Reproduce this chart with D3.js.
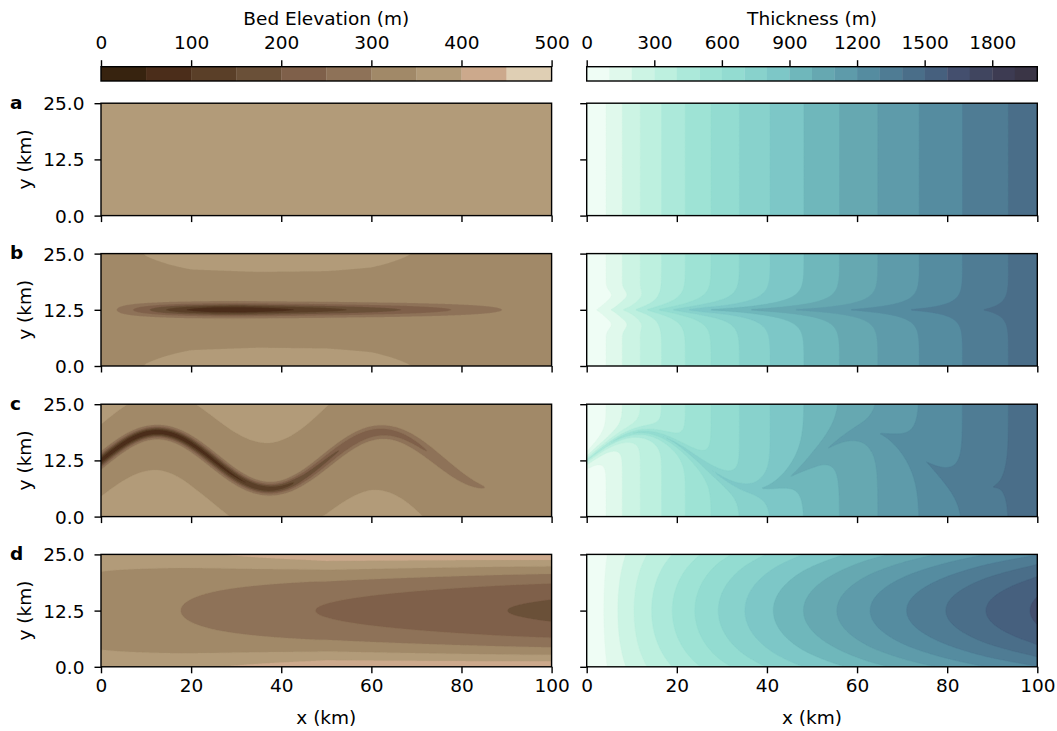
<!DOCTYPE html>
<html>
<head>
<meta charset="utf-8">
<script src="https://cdn.jsdelivr.net/npm/d3@7"></script>
<style>
  body { margin: 0; background: #fff; }
  svg { display: block; }
  text { font-family: "DejaVu Sans", sans-serif; fill: #000; }
</style>
</head>
<body>
<svg id="fig" width="1057" height="731"></svg>
<script>
// ---------- colour classes ----------
const bedLevels = [0, 50, 100, 150, 200, 250, 300, 350, 400, 450, 500];
const bedColors = ["#37230f", "#4b2d1a", "#5a3f28", "#6a5038", "#7f604a",
                   "#8e7258", "#a18968", "#b29b79", "#cca98c", "#dfcfb4"];
const thkLevels = [0, 100, 200, 300, 400, 500, 600, 700, 800, 900, 1000,
                   1100, 1200, 1300, 1400, 1500, 1600, 1700, 1800, 1900, 2000];
const thkColors = ["#effdf5", "#e0f9ec", "#ccf4e4", "#bdf0df", "#ace9da",
                   "#9ee3d5", "#93dcd1", "#88d2cc", "#7dc7c7", "#6fb7bb",
                   "#66a8b1", "#5e9baa", "#558ca0", "#4f7c94", "#4a6e89",
                   "#46607e", "#444f6e", "#40455f", "#3d3b52", "#3a3546"];

// ---------- tick labels ----------
const bedTicks = [0, 100, 200, 300, 400, 500];
const thkTicks = [0, 300, 600, 900, 1200, 1500, 1800];
const xTicks = [0, 20, 40, 60, 80, 100];
const yTicks = [0, 12.5, 25];
const panelLetters = ["a", "b", "c", "d"];

// ---------- ice thickness over a flat bed (km -> m) ----------
const flatX = [0, 4.3, 7.9, 11.9, 16.6, 21.9, 27.6, 33.9, 40.7, 48.2, 56.1, 64.6, 73.8, 83.4, 93.6, 100];
const flatH = [10, 100, 200, 300, 400, 500, 600, 700, 800, 900, 1000, 1100, 1200, 1300, 1400, 1460];

// ---------- bed elevations ----------
const bedFlat = 360;          // a: flat bed
const bedBase = 335;          // b, c: bed away from the trough
// b: straight trough along y = 12.5
const troughBX = [0, 3.5, 7.1, 10.8, 14.4, 18.9, 25, 32, 43, 54.7, 66.7, 77.8, 89, 95, 100];
const troughBZ = [335, 300, 250, 200, 150, 100, 55, 50, 100, 150, 200, 250, 300, 335, 335];
const troughBWidth = 0.95;    // km
const ridgeBX = [0, 5, 10, 20, 35, 50, 60, 68, 75, 100];
const ridgeBZ = [0, 8, 15, 24, 27, 26, 22, 15, 8, 0];
// c: meandering trough
const meanderAmp = 6.3, meanderWave = 50;   // km
const troughCX = [0, 5, 10, 15, 20, 30, 37, 42, 45, 53, 60, 70.8, 78, 85.2, 88, 100];
const troughCZ = [75, 65, 55, 60, 75, 95, 110, 140, 175, 200, 215, 245, 268, 300, 335, 335];
const troughCWidthX = [0, 40, 60, 80, 90];
const troughCWidthZ = [0.8, 0.8, 1.0, 0.95, 0.8];
const ridgeCX = [0, 12.5, 21, 28.6, 37.5, 50, 60, 71.5, 80, 100];
const ridgeCZ = [30, 27, 22, 21, 19.4, 15.2, 14, 10.7, 5, 0];
// d: widening, deepening trough
const valleyX = [0, 17.7, 47.6, 90.2, 100];
const valleyZ = [335, 300, 250, 200, 190];
const valleyCurvX = [0, 25, 50, 100];
const valleyCurvK = [0.2, 0.7, 1.25, 1.65];   // m per km^2

// ---------- thickness anomalies ----------
const extraBX = [0, 5, 10, 13, 15.6, 18.5, 22, 26, 35, 45, 57, 70, 88, 100];
const extraBZ = [30, 70, 120, 170, 220, 260, 300, 330, 285, 245, 187, 136, 57, 30];
const spreadBX = [0, 20, 40, 60, 90, 100];
const spreadBZ = [0.9, 1.3, 1.5, 1.5, 1.5, 1.5];
const flankBX = [0, 4, 8, 12, 16];          // thinner ice beside the trough inlet
const flankBZ = [10, 35, 35, 15, 0];
const extraCX = [0, 5, 12, 25, 37, 50, 62, 75, 85, 92, 100];
const extraCZ = [420, 390, 350, 220, 130, 150, 100, 85, 60, 25, 15];
const spreadCX = [0, 20, 40, 60, 100];
const spreadCZ = [1.0, 1.0, 1.6, 2.4, 2.6];
// d: centre-line thickness and lateral thinning
const centreDX = [0, 3.8, 6.9, 10.5, 14.4, 19.0, 24.0, 29.2, 35.1, 41.4, 48.1, 55.5, 62.9, 71.0, 79.7, 88.6, 98.4, 100];
const centreDH = [10, 100, 200, 300, 400, 500, 600, 700, 800, 900, 1000, 1100, 1200, 1300, 1400, 1500, 1600, 1620];
const edgeThinning = 0.2;

// ---------- profiles as scales ----------
const lin = (d, r) => d3.scaleLinear().domain(d).range(r).clamp(true);
const H0 = lin(flatX, flatH);
const troughB = lin(troughBX, troughBZ), ridgeB = lin(ridgeBX, ridgeBZ);
const troughC = lin(troughCX, troughCZ), ridgeC = lin(ridgeCX, ridgeCZ);
const troughCW = lin(troughCWidthX, troughCWidthZ);
const valleyZc = lin(valleyX, valleyZ), valleyK = lin(valleyCurvX, valleyCurvK);
const extraB = lin(extraBX, extraBZ), spreadB = lin(spreadBX, spreadBZ), flankB = lin(flankBX, flankBZ);
const extraC = lin(extraCX, extraCZ), spreadC = lin(spreadCX, spreadCZ);
const centreD = lin(centreDX, centreDH);

// bed rises gently away from the trough
const ridge = (A, d) => A * Math.max(0, (d - 4) / 8);
function meander(x, y) {
  const k = 2 * Math.PI / meanderWave;
  const yc = 12.5 + meanderAmp * Math.sin(k * x);
  const slope = meanderAmp * k * Math.cos(k * x);
  const dv = Math.abs(y - yc);
  return { dv, dp: dv / Math.sqrt(1 + slope * slope) };
}

const bedFns = [
  () => bedFlat,
  (x, y) => {
    const d = Math.abs(y - 12.5);
    const D = Math.max(0, bedBase - troughB(x));
    return bedBase + ridge(ridgeB(x), d) - D * Math.exp(-d * d / (2 * troughBWidth ** 2));
  },
  (x, y) => {
    const m = meander(x, y);
    const D = Math.max(0, bedBase - troughC(x));
    const w = troughCW(x);
    return bedBase + ridge(ridgeC(x), m.dv) - D * Math.exp(-m.dp * m.dp / (2 * w * w));
  },
  (x, y) => {
    const d = Math.abs(y - 12.5);
    return valleyZc(x) + valleyK(x) * d * d;
  }
];
const thkFns = [
  (x) => H0(x),
  (x, y) => {
    const d = Math.abs(y - 12.5);
    const lobe = (d - 3.2) / 1.4;
    return H0(x) + extraB(x) * Math.exp(-d / spreadB(x)) - flankB(x) * Math.exp(-lobe * lobe);
  },
  (x, y) => H0(x) + extraC(x) * Math.exp(-meander(x, y).dp / spreadC(x)),
  (x, y) => { const r = (y - 12.5) / 12.5; return centreD(x) * (1 - edgeThinning * r * r); }
];

// ---------- layout ----------
const svg = d3.select("#fig");
const colX = [101, 586.7], colW = 450.6;
const rowY = [103.2, 253.6, 404.2, 554.4], rowH = 112.4;
const FS = 18.5;

const step = 0.2;
const nx = Math.round(100 / step) + 1, ny = Math.round(25 / step) + 1;

function sampleGrid(f) {
  const v = new Float64Array(nx * ny);
  for (let j = 0; j < ny; j++) {
    const y = j * step;
    for (let i = 0; i < nx; i++) v[j * nx + i] = f(i * step, y);
  }
  return v;
}

function drawPanel(row, col, f, levels, colors) {
  const x0 = colX[col], y0 = rowY[row];
  const xS = d3.scaleLinear().domain([0, 100]).range([x0, x0 + colW]);
  const yS = d3.scaleLinear().domain([0, 25]).range([y0 + rowH, y0]);
  const id = `clip-${row}-${col}`;
  svg.append("clipPath").attr("id", id).append("rect")
    .attr("x", x0).attr("y", y0).attr("width", colW).attr("height", rowH);

  const values = sampleGrid(f);
  const contours = d3.contours().size([nx, ny]).thresholds(levels.slice(0, -1))(values);
  const proj = d3.geoTransform({
    point(px, py) { this.stream.point(xS((px - 0.5) * step), yS((py - 0.5) * step)); }
  });
  const path = d3.geoPath(proj);
  const g = svg.append("g").attr("clip-path", `url(#${id})`);
  g.selectAll("path").data(contours).join("path")
    .attr("d", path)
    .attr("fill", (d, i) => colors[i])
    .attr("stroke", (d, i) => colors[i])
    .attr("stroke-width", 0.3);

  // axes
  const xa = svg.append("g").attr("transform", `translate(0,${y0 + rowH})`)
    .call(d3.axisBottom(xS).tickValues(xTicks).tickSize(6.5).tickSizeOuter(0).tickPadding(5)
      .tickFormat(row === 3 ? d3.format("d") : () => ""));
  const ya = svg.append("g").attr("transform", `translate(${x0},0)`)
    .call(d3.axisLeft(yS).tickValues(yTicks).tickSize(6.5).tickSizeOuter(0).tickPadding(10)
      .tickFormat(col === 0 ? d3.format(".1f") : () => ""));
  [xa, ya].forEach(a => {
    a.select(".domain").remove();
    a.selectAll("line").attr("stroke", "#000").attr("stroke-width", 1.4);
    a.selectAll("text").attr("font-size", FS).attr("font-family", "DejaVu Sans, sans-serif").attr("fill", "#000");
  });
  ya.selectAll("text").attr("dy", "0.35em");
  xa.selectAll("text").attr("dy", "0.76em");

  svg.append("rect").attr("x", x0).attr("y", y0).attr("width", colW).attr("height", rowH)
    .attr("fill", "none").attr("stroke", "#000").attr("stroke-width", 1.4);

  if (col === 0) {
    svg.append("text").attr("x", 10).attr("y", y0 + 5.4).attr("font-size", FS)
      .attr("font-weight", "bold").text(panelLetters[row]);
    svg.append("text").attr("transform", `translate(30.5,${y0 + rowH / 2}) rotate(-90)`)
      .attr("text-anchor", "middle").attr("font-size", FS).text("y (km)");
  }
  if (row === 3) {
    svg.append("text").attr("x", x0 + colW / 2).attr("y", 723.5).attr("text-anchor", "middle")
      .attr("font-size", FS).text("x (km)");
  }
}

for (let r = 0; r < 4; r++) {
  drawPanel(r, 0, bedFns[r], bedLevels, bedColors);
  drawPanel(r, 1, thkFns[r], thkLevels, thkColors);
}

// ---------- colour bars ----------
function colorbar(col, levels, colors, ticks, title) {
  const x0 = colX[col], y0 = 66.7, h = 14.3;
  const s = d3.scaleLinear().domain([levels[0], levels[levels.length - 1]]).range([x0, x0 + colW]);
  svg.append("g").selectAll("rect").data(colors).join("rect")
    .attr("x", (d, i) => s(levels[i])).attr("y", y0)
    .attr("width", (d, i) => s(levels[i + 1]) - s(levels[i]) + 0.3).attr("height", h)
    .attr("fill", d => d);
  svg.append("rect").attr("x", x0).attr("y", y0).attr("width", colW).attr("height", h)
    .attr("fill", "none").attr("stroke", "#000").attr("stroke-width", 1.4);
  const a = svg.append("g").attr("transform", `translate(0,${y0})`)
    .call(d3.axisTop(s).tickValues(ticks).tickSize(6.5).tickSizeOuter(0).tickPadding(11).tickFormat(d3.format("d")));
  a.select(".domain").remove();
  a.selectAll("line").attr("stroke", "#000").attr("stroke-width", 1.4);
  a.selectAll("text").attr("font-size", FS).attr("font-family", "DejaVu Sans, sans-serif").attr("fill", "#000");
  svg.append("text").attr("x", x0 + colW / 2).attr("y", 24.5).attr("text-anchor", "middle")
    .attr("font-size", FS).text(title);
}
colorbar(0, bedLevels, bedColors, bedTicks, "Bed Elevation (m)");
colorbar(1, thkLevels, thkColors, thkTicks, "Thickness (m)");
</script>
</body>
</html>
